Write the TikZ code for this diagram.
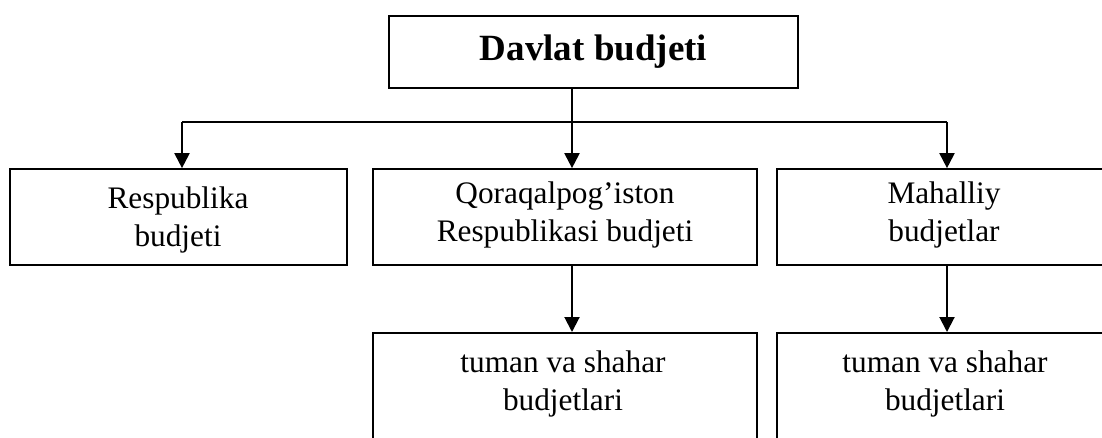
\documentclass[tikz,border=0pt]{standalone}
\usepackage{fontspec}
\setmainfont{Liberation Serif}
\usetikzlibrary{arrows.meta}
\begin{document}
\begin{tikzpicture}[x=1pt,y=-1pt,
  box/.style={draw, line width=1.7pt, rectangle, inner sep=0pt},
  txt/.style={inner sep=0pt, align=center, font=\fontsize{31.3}{37.5}\selectfont},
  conn/.style={line width=2pt},
  arr/.style={line width=2pt, -{Triangle[length=15pt,width=15pt]}}]
\useasboundingbox (0,0) rectangle (1102,437);
\clip (0,0) rectangle (1102,437);
\node[box, minimum width=409, minimum height=72, font=\fontsize{37}{44}\selectfont\bfseries] (top) at (593.5,52) {Davlat budjeti};
\node[box, minimum width=337, minimum height=96] (resp) at (178.5,217) {};
\node[box, minimum width=384, minimum height=96] (qor) at (565,217) {};
\node[box, minimum width=334, minimum height=96] (mah) at (944,217) {};
\node[txt] (respt) at (178,220) {Respublika\\budjeti};
\node[txt] (qort) at (565,215) {Qoraqalpog’iston\\Respublikasi budjeti};
\node[txt] (maht) at (944,215) {Mahalliy\\budjetlar};
\node[box, anchor=north, minimum width=384, minimum height=150] (tq) at (565,332) {};
\node[box, anchor=north, minimum width=334, minimum height=150] (tm) at (944,332) {};
\node[txt, anchor=north] (tqt) at (563,351) {tuman va shahar\\budjetlari};
\node[txt, anchor=north] (tmt) at (945,351) {tuman va shahar\\budjetlari};
\coordinate (jc) at (572,122);
\coordinate (jl) at (182,122);
\coordinate (jr) at (947,122);
\draw[conn] (top.south -| jc) -- (jc);
\draw[conn] (jl) -- (jr);
\draw[arr] (jc) -- (qor.north -| jc);
\draw[arr] (jl) -- (resp.north -| jl);
\draw[arr] (jr) -- (mah.north -| jr);
\draw[arr] (qor.south -| jc) -- (tq.north -| jc);
\draw[arr] (mah.south -| jr) -- (tm.north -| jr);
\end{tikzpicture}
\end{document}
